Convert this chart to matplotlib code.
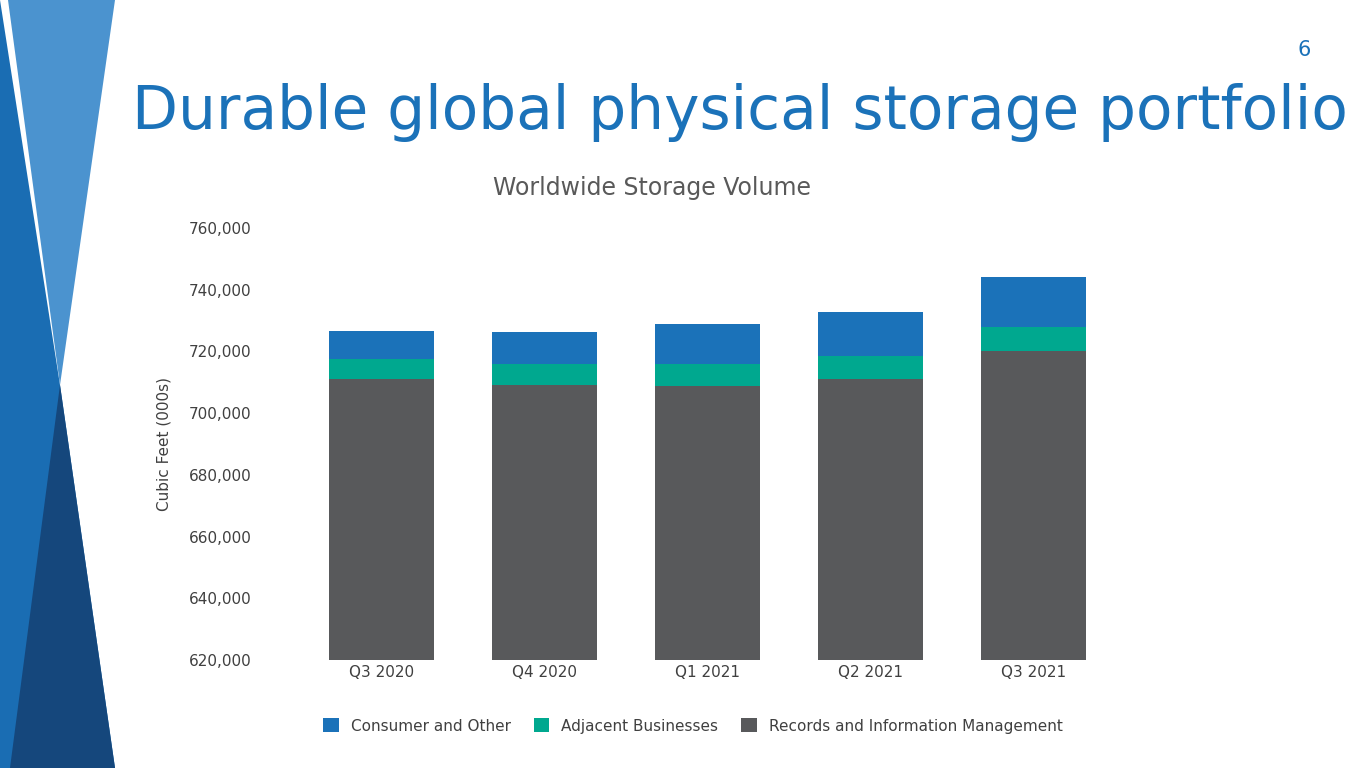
import numpy as np
import matplotlib.pyplot as plt
from matplotlib.patches import Polygon

quarters = ["Q3 2020", "Q4 2020", "Q1 2021", "Q2 2021", "Q3 2021"]
records = [711100, 709100, 708800, 711100, 720100]
adjacent = [6400, 6800, 7100, 7400, 7800]
consumer = [9100, 10400, 13000, 14300, 16200]
yticks = [620000, 640000, 660000, 680000, 700000, 720000, 740000, 760000]

W, H = 1365, 768
fig = plt.figure(figsize=(W / 100, H / 100), dpi=100)

def px(pts):
    return [(x / W, 1 - y / H) for x, y in pts]

# left decoration
fig.patches.append(Polygon(px([(0, 0), (60, 385), (115, 768), (0, 768)]), closed=True,
                           transform=fig.transFigure, fc='#1a6db3', ec='none'))
fig.patches.append(Polygon(px([(8, 0), (115, 0), (60, 385)]), closed=True,
                           transform=fig.transFigure, fc='#4b93cf', ec='none'))
fig.patches.append(Polygon(px([(60, 385), (115, 768), (10, 768)]), closed=True,
                           transform=fig.transFigure, fc='#15477c', ec='none'))

fig.text(132 / W, 1 - 113 / H, "Durable global physical storage portfolio",
         fontsize=43, color='#1b72b9', va='center', ha='left')
fig.text(1304 / W, 1 - 50 / H, "6", fontsize=15, color='#1b72b9', ha='center', va='center')
fig.text(652 / W, 1 - 188 / H, "Worldwide Storage Volume", fontsize=17,
         color='#595959', ha='center', va='center')

ax = fig.add_axes([300 / W, 1 - 660 / H, 815 / W, 432 / H])
x = np.arange(len(quarters))
bw = 0.65
base = np.array(records)
ax.bar(x, records, bw, color='#58595b', label='Records and Information Management')
ax.bar(x, adjacent, bw, bottom=base, color='#00a88f', label='Adjacent Businesses')
ax.bar(x, consumer, bw, bottom=base + np.array(adjacent), color='#1b72b9', label='Consumer and Other')
ax.set_xlim(-0.5, 4.5)
ax.set_ylim(620000, 760000)
ax.set_yticks(yticks)
ax.set_yticklabels([f"{v:,}" for v in yticks])
ax.set_xticks(x)
ax.set_xticklabels(quarters)
ax.tick_params(length=0, labelsize=11, colors='#404040')
ax.tick_params(axis='y', pad=35)
for sp in ax.spines.values():
    sp.set_visible(False)
ax.set_ylabel("Cubic Feet (000s)", fontsize=11, color='#404040', labelpad=12)

h, l = ax.get_legend_handles_labels()
fig.legend(h[::-1], l[::-1], loc='center', bbox_to_anchor=(693 / W, 1 - 726 / H), ncol=3,
           frameon=False, fontsize=11, handlelength=1, handleheight=1, columnspacing=1.5,
           labelcolor='#404040')

fig.savefig("out.png", dpi=100)
